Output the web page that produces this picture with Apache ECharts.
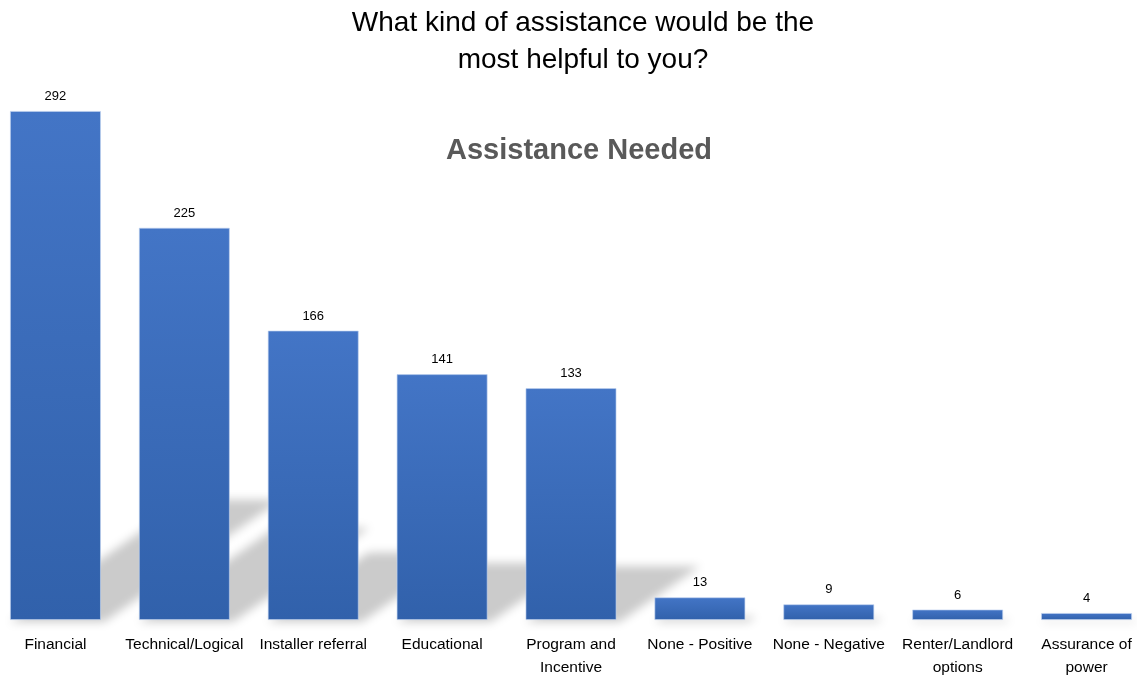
<!DOCTYPE html>
<html>
<head>
<meta charset="utf-8">
<script src="https://cdn.jsdelivr.net/npm/echarts@6/dist/echarts.min.js"></script>
<style>
html,body{margin:0;padding:0;background:#fff;}
#chart{width:1137px;height:677px;}
</style>
</head>
<body>
<div id="chart"></div>
<script>
const categories = ['Financial', 'Technical/Logical', 'Installer referral', 'Educational', 'Program and\nIncentive', 'None - Positive', 'None - Negative', 'Renter/Landlord\noptions', 'Assurance of\npower'];
const values = [292, 225, 166, 141, 133, 13, 9, 6, 4];
const mainTitle = 'What kind of assistance would be the\nmost helpful to you?';
const subTitle = 'Assistance Needed';

const chart = echarts.init(document.getElementById('chart'), null, {renderer: 'canvas'});
const BAR_RATIO = 0.705;
const OFF = 3000;

const option = {
  backgroundColor: '#ffffff',
  animation: false,
  title: [
    {
      text: mainTitle,
      left: 578, top: 0, textAlign: 'center',
      textStyle: {fontFamily: 'Liberation Sans', fontSize: 28, fontWeight: 'normal', color: '#000', lineHeight: 37}
    },
    {
      text: subTitle,
      left: 574, top: 131, textAlign: 'center',
      textStyle: {fontFamily: 'Liberation Sans', fontSize: 29, fontWeight: 'bold', color: '#595959'}
    }
  ],
  grid: {left: -9, right: -14, top: 111, bottom: 57, outerBoundsMode: 'none', containLabel: false},
  xAxis: {
    type: 'category',
    data: categories,
    axisLine: {show: false},
    axisTick: {show: false},
    axisLabel: {
      interval: 0, margin: 13, color: '#000',
      fontFamily: 'Liberation Sans', fontSize: 15.5, lineHeight: 23
    }
  },
  yAxis: {
    type: 'value', min: 0, max: 292, show: false,
    splitLine: {show: false}
  },
  series: [
    {
      type: 'custom',
      z: 1,
      silent: true,
      clip: false,
      data: values.map((v, i) => [i, v]),
      encode: {x: 0, y: 1},
      renderItem: function (params, api) {
        const idx = api.value(0), v = api.value(1);
        const top = api.coord([idx, v]);
        const base = api.coord([idx, 0]);
        const bw = api.size([1, 0])[0] * BAR_RATIO;
        const h = base[1] - top[1];
        const sh = h * 0.24, dx = sh * 1.45;
        const x0 = base[0] - bw / 2 - OFF, x1 = base[0] + bw / 2 - OFF, y0 = base[1] + 2;
        return {
          type: 'polygon',
          shape: {points: [[x0, y0], [x1 + 3, y0], [x1 + 3 + dx, y0 - sh], [x0 + dx, y0 - sh]]},
          style: {fill: '#000', shadowBlur: 10, shadowColor: '#cbcbcb', shadowOffsetX: OFF, shadowOffsetY: 0}
        };
      }
    },
    {
      type: 'bar',
      z: 2,
      data: values,
      barWidth: (BAR_RATIO * 100) + '%',
      itemStyle: {
        color: new echarts.graphic.LinearGradient(0, 0, 0, 1, [
          {offset: 0, color: '#4375c6'},
          {offset: 1, color: '#3161ab'}
        ]),
        borderColor: 'rgba(190,210,240,0.8)',
        borderWidth: 0.8
      },
      label: {
        show: true, position: 'top', distance: 8,
        color: '#000', fontFamily: 'Liberation Sans', fontSize: 13
      }
    }
  ]
};
chart.setOption(option);
</script>
</body>
</html>
